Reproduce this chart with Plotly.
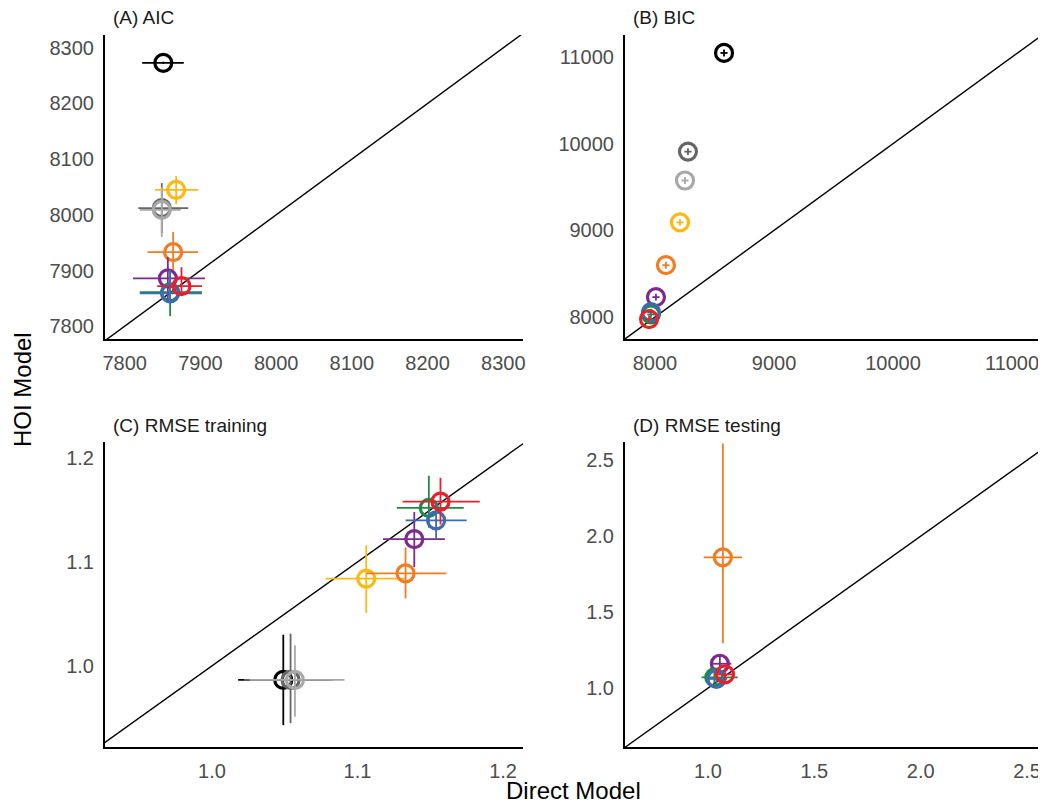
import plotly.graph_objects as go

series = ["black", "darkgray", "lightgray", "yellow", "orange", "purple", "green", "blue", "red"]
colors = ["#000000", "#666666", "#A8A8A8", "#FDB913", "#F07D24", "#7D2A8E", "#1D8A46", "#3D6AB3", "#E7202A"]

# Panel A: AIC
aic_x = [7851, 7849, 7849, 7868, 7864, 7857, 7860, 7860, 7875]
aic_x_lo = [7823, 7818, 7820, 7840, 7830, 7811, 7820, 7820, 7843]
aic_x_hi = [7878, 7884, 7874, 7897, 7897, 7906, 7902, 7902, 7902]
aic_y = [8273, 8012, 8009, 8045, 7933, 7886, 7861, 7859, 7872]
aic_y_lo = [8271, 7967, 7960, 8019, 7895, 7846, 7818, 7841, 7854]
aic_y_hi = [8275, 8057, 8050, 8070, 7969, 7924, 7901, 7901, 7906]

# Panel B: BIC
bic_x = [8580, 8277, 8252, 8210, 8092, 8008, 7965, 7966, 7950]
bic_x_lo = [8550, 8247, 8222, 8180, 8062, 7978, 7935, 7936, 7920]
bic_x_hi = [8610, 8307, 8282, 8240, 8122, 8038, 7995, 7996, 7980]
bic_y = [11046, 9908, 9575, 9092, 8598, 8230, 8030, 8057, 7977]
bic_y_lo = [11006, 9868, 9535, 9052, 8558, 8190, 7990, 8017, 7937]
bic_y_hi = [11086, 9948, 9615, 9132, 8638, 8270, 8070, 8097, 8017]

# Panel C: RMSE training
trn_x = [1.049, 1.054, 1.057, 1.106, 1.133, 1.139, 1.149, 1.154, 1.157]
trn_x_lo = [1.018, 1.022, 1.026, 1.078, 1.106, 1.1175, 1.127, 1.133, 1.131]
trn_x_hi = [1.080, 1.083, 1.091, 1.133, 1.161, 1.160, 1.173, 1.175, 1.184]
trn_y = [0.9865, 0.9865, 0.9865, 1.084, 1.089, 1.122, 1.152, 1.140, 1.158]
trn_y_lo = [0.943, 0.945, 0.951, 1.051, 1.065, 1.095, 1.133, 1.122, 1.136]
trn_y_hi = [1.030, 1.031, 1.020, 1.116, 1.114, 1.148, 1.183, 1.158, 1.181]

# Panel D: RMSE testing (only some models)
tst_x = [None, None, None, None, 1.07, 1.056, 1.03, 1.04, 1.08]
tst_x_lo = [None, None, None, None, 0.98, 1.01, 0.97, 1.00, 1.04]
tst_x_hi = [None, None, None, None, 1.16, 1.11, 1.14, 1.09, 1.12]
tst_y = [None, None, None, None, 1.86, 1.16, 1.07, 1.06, 1.09]
tst_y_lo = [None, None, None, None, 1.295, 1.10, 1.03, 1.02, 1.05]
tst_y_hi = [None, None, None, None, 2.61, 1.22, 1.11, 1.10, 1.13]

panels = [
    ("(A) AIC", aic_x, aic_x_lo, aic_x_hi, aic_y, aic_y_lo, aic_y_hi,
     [7774, 8326], [7777, 8323], [7800, 7900, 8000, 8100, 8200, 8300], "d"),
    ("(B) BIC", bic_x, bic_x_lo, bic_x_hi, bic_y, bic_y_lo, bic_y_hi,
     [7748, 11260], [7747, 11253], [8000, 9000, 10000, 11000], "d"),
    ("(C) RMSE training", trn_x, trn_x_lo, trn_x_hi, trn_y, trn_y_lo, trn_y_hi,
     [0.9265, 1.2137], [0.922, 1.2154], [1.0, 1.1, 1.2], ".1f"),
    ("(D) RMSE testing", tst_x, tst_x_lo, tst_x_hi, tst_y, tst_y_lo, tst_y_hi,
     [0.61, 2.575], [0.612, 2.62], [1.0, 1.5, 2.0, 2.5], ".1f"),
]

# page has an 8px body margin, so the figure is offset by 8px
OFF = 8
W, H = 1046 - OFF, 808 - OFF
# pixel boxes in page coordinates (left, right, top, bottom)
boxes = [(105, 523, 35, 339), (625, 1043, 35, 339), (105, 523, 442, 747), (625, 1043, 442, 747)]


def px(x):
    return (x - OFF) / W


def py(y):
    return 1 - (y - OFF) / H


fig = go.Figure()
layout = dict(
    width=W, height=H, margin=dict(l=0, r=0, t=0, b=0, autoexpand=False),
    plot_bgcolor="white", paper_bgcolor="white", showlegend=False,
    font=dict(family="Liberation Sans, Arial, sans-serif", color="#4D4D4D", size=20),
)
annotations = []

for i, (title, xs, xlo, xhi, ys, ylo, yhi, xr, yr, ticks, fmt) in enumerate(panels):
    k = "" if i == 0 else str(i + 1)
    xa, ya = "x" + k, "y" + k
    l, r, t, b = boxes[i]
    axis_common = dict(
        tickvals=ticks, tickformat=fmt, showgrid=False, zeroline=False,
        showline=True, linecolor="black", linewidth=2,
        ticks="outside", ticklen=5, tickcolor="rgba(0,0,0,0)",
        tickfont=dict(size=20, color="#4D4D4D"), automargin=False,
    )
    layout["xaxis" + k] = dict(axis_common, range=xr, domain=[px(l), px(r)], anchor=ya)
    layout["yaxis" + k] = dict(axis_common, range=yr, domain=[py(b), py(t)], anchor=xa)

    # 1:1 line across the panel
    lo, hi = min(xr[0], yr[0]), max(xr[1], yr[1])
    fig.add_trace(go.Scatter(x=[lo, hi], y=[lo, hi], mode="lines", line=dict(color="black", width=1.4),
                             xaxis=xa, yaxis=ya, hoverinfo="skip"))

    for j, name in enumerate(series):
        if xs[j] is None:
            continue
        fig.add_trace(go.Scatter(
            x=[xs[j]], y=[ys[j]], mode="markers", name=name,
            xaxis=xa, yaxis=ya,
            marker=dict(symbol="circle-open", size=17, color=colors[j], line=dict(width=3.2, color=colors[j])),
            error_x=dict(type="data", symmetric=False, array=[xhi[j] - xs[j]], arrayminus=[xs[j] - xlo[j]],
                         color=colors[j], thickness=1.8, width=0),
            error_y=dict(type="data", symmetric=False, array=[yhi[j] - ys[j]], arrayminus=[ys[j] - ylo[j]],
                         color=colors[j], thickness=1.8, width=0),
        ))

    annotations.append(dict(text=title, x=px(l + 6), y=py(t - 17), xref="paper", yref="paper",
                            xanchor="left", yanchor="middle", showarrow=False,
                            font=dict(size=19, color="#1A1A1A")))

annotations.append(dict(text="HOI Model", x=px(22), y=py(390), xref="paper", yref="paper",
                        xanchor="center", yanchor="middle",
                        textangle=-90, showarrow=False, font=dict(size=24, color="black")))
annotations.append(dict(text="Direct Model", x=px(573), y=py(790), xref="paper", yref="paper",
                        xanchor="center", yanchor="middle",
                        showarrow=False, font=dict(size=24, color="black")))
layout["annotations"] = annotations
fig.update_layout(**layout)
fig.write_html("out.html")
